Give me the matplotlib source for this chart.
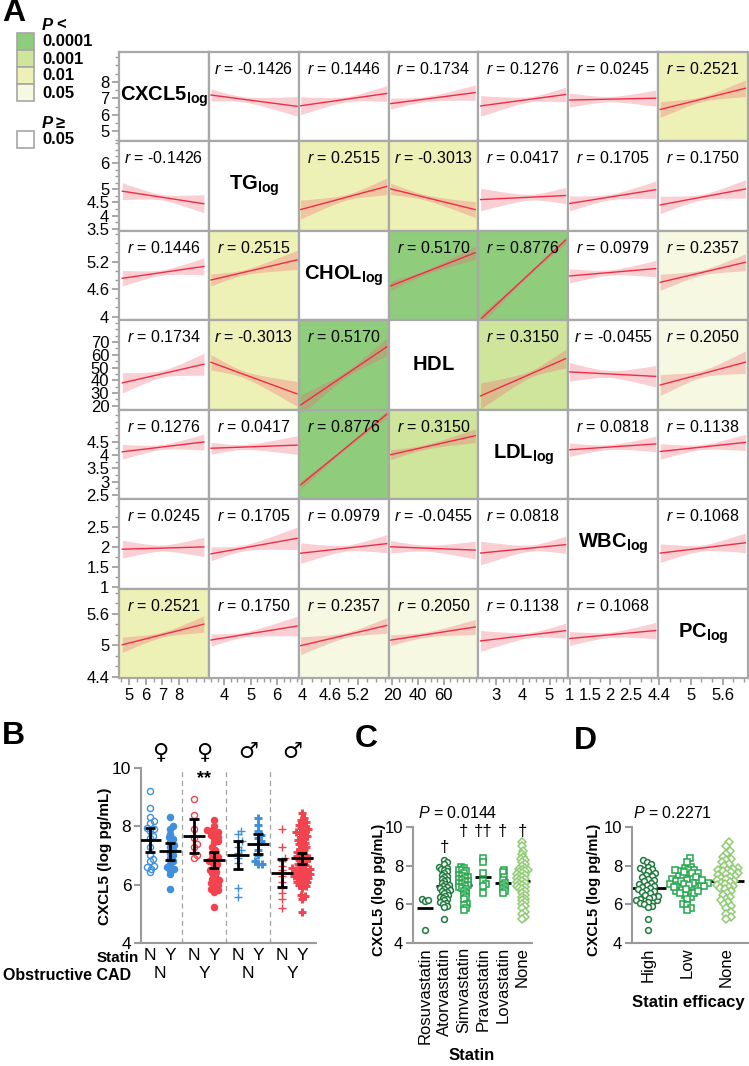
import math

import matplotlib
matplotlib.use("Agg")
import matplotlib.pyplot as plt
import numpy as np
from matplotlib.patches import Rectangle
from matplotlib.ticker import FixedLocator, MultipleLocator
from matplotlib.transforms import blended_transform_factory

plt.rcParams["font.family"] = ["Liberation Sans", "DejaVu Sans"]
plt.rcParams["mathtext.fontset"] = "custom"
plt.rcParams["mathtext.rm"] = "Liberation Sans"
plt.rcParams["mathtext.it"] = "Liberation Sans:italic"
plt.rcParams["mathtext.bf"] = "Liberation Sans:bold"

W, H = 749, 1066

# ---------------- panel A: scatterplot matrix summary ----------------
var_names = ["CXCL5", "TG", "CHOL", "HDL", "LDL", "WBC", "PC"]
var_logged = [True, True, True, False, True, True, True]
var_mean = [6.95, 4.70, 4.96, 45.0, 4.30, 1.97, 5.20]
var_sd = [0.85, 0.58, 0.31, 14.6, 0.50, 0.40, 0.27]
var_min = [4.6, 3.5, 3.96, 18.6, 2.43, 1.0, 4.42]
var_max = [9.5, 6.76, 5.83, 84.5, 5.6, 3.12, 6.03]
axis_lim = [(4.4, 9.8), (3.42, 6.82), (3.92, 5.87), (17, 87),
            (2.35, 5.7), (0.97, 3.18), (4.38, 6.08)]
x_ticks = [[5, 6, 7, 8], [4, 5, 6], [4, 4.6, 5.2], [20, 40, 60],
           [3, 4, 5], [1, 1.5, 2, 2.5], [4.4, 5, 5.6]]
y_ticks = [[5, 6, 7, 8], [3.5, 4, 4.5, 5, 6], [4, 4.6, 5.2],
           [20, 30, 40, 50, 60, 70], [2.5, 3, 3.5, 4, 4.5],
           [1, 1.5, 2, 2.5], [4.4, 5, 5.6]]
minor_step = [0.5, 0.25, 0.2, 5, 0.25, 0.25, 0.2]
n_subjects = 110

# upper triangle of the Pearson r matrix
r_upper = [
    [-0.1426, 0.1446, 0.1734, 0.1276, 0.0245, 0.2521],
    [0.2515, -0.3013, 0.0417, 0.1705, 0.1750],
    [0.5170, 0.8776, 0.0979, 0.2357],
    [0.3150, -0.0455, 0.2050],
    [0.0818, 0.1138],
    [0.1068],
]
sig_levels = [0.0001, 0.001, 0.01, 0.05]
sig_colors = ["#8fcd7c", "#cfe59c", "#eef1b6", "#f6f8e2"]

# ---------------- panel B ----------------
b_values = [
    [9.22, 8.63, 8.32, 8.17, 8.12, 7.94, 7.9, 7.85, 7.66, 7.6, 7.3, 7.0,
     6.88, 6.8, 6.65, 6.6, 6.55, 6.42],
    [8.32, 8.0, 7.9, 7.75, 7.62, 7.55, 7.45, 7.35, 7.3, 7.2, 7.1, 7.0, 6.9,
     6.8, 6.7, 6.6, 6.55, 6.5, 6.35, 5.85],
    [8.95, 8.4, 7.9, 7.6, 7.4, 7.3, 7.0, 6.92],
    [8.23, 8.0, 7.88, 7.85, 7.82, 7.78, 7.7, 7.65, 7.6, 7.5, 7.45, 7.3, 7.2,
     7.1, 7.0, 6.95, 6.9, 6.85, 6.8, 6.75, 6.7, 6.6, 6.5, 6.45, 6.4, 6.3,
     6.2, 6.15, 6.1, 6.05, 6.0, 5.95, 5.85, 5.8, 5.75, 5.23],
    [7.85, 7.75, 7.5, 7.45, 7.3, 7.2, 7.1, 6.9, 6.75, 5.9, 5.57],
    [8.3, 8.05, 7.85, 7.7, 7.6, 7.5, 7.4, 7.2, 7.0, 6.8, 6.7, 6.7],
    [7.9, 7.3, 6.9, 6.8, 6.65, 6.5, 6.3, 6.1, 5.9, 5.7, 5.5, 5.2],
    [8.45, 8.3, 8.22, 8.15, 8.1, 8.05, 8.0, 7.95, 7.9, 7.85, 7.8, 7.78,
     7.72, 7.68, 7.62, 7.58, 7.52, 7.48, 7.42, 7.38, 7.32, 7.28, 7.22, 7.18,
     7.12, 7.08, 7.02, 6.98, 6.95, 6.9, 6.86, 6.82, 6.78, 6.72, 6.68, 6.62,
     6.58, 6.55, 6.52, 6.5, 6.48, 6.45, 6.42, 6.4, 6.38, 6.35, 6.32, 6.3,
     6.28, 6.25, 6.22, 6.2, 6.15, 6.1, 6.1, 6.05, 6.0, 5.95, 5.9, 5.65, 5.6,
     5.5, 5.05],
]
b_statin = ["N", "Y", "N", "Y", "N", "Y", "N", "Y"]
b_cad = ["N", "Y", "N", "Y"]
b_sex = ["\u2640", "\u2640", "\u2642", "\u2642"]
b_pair_colors = ["#3f8fdc", "#f2434f", "#3f8fdc", "#f2434f"]

# ---------------- panels C and D ----------------
c_names = ["Rosuvastatin", "Atorvastatin", "Simvastatin", "Pravastatin",
           "Lovastatin", "None"]
c_values = [
    [6.25, 6.15, 6.2, 4.65],
    [8.3, 8.2, 8.1, 7.95, 7.9, 7.85, 7.8, 7.7, 7.6, 7.5, 7.45, 7.4, 7.3,
     7.25, 7.2, 7.1, 7.05, 7.0, 6.95, 6.9, 6.85, 6.8, 6.75, 6.7, 6.65, 6.6,
     6.5, 6.45, 6.4, 6.35, 6.3, 6.2, 6.1, 6.05, 6.0, 5.9, 5.85, 5.25],
    [7.95, 7.9, 7.8, 7.75, 7.7, 7.6, 7.5, 7.45, 7.4, 7.35, 7.3, 7.25, 7.2,
     7.15, 7.1, 7.05, 7.0, 6.95, 6.9, 6.85, 6.8, 6.7, 6.6, 6.5, 6.4, 6.3,
     6.0, 5.95, 5.8, 5.7],
    [8.4, 8.2, 7.6, 7.2, 7.05, 6.95, 6.6],
    [7.8, 7.65, 7.4, 7.25, 7.1, 7.0, 6.9, 6.8, 6.7, 6.6],
    [9.2, 9.0, 8.75, 8.6, 8.45, 8.35, 8.3, 8.2, 8.1, 8.0, 7.9, 7.85, 7.8,
     7.75, 7.7, 7.65, 7.6, 7.55, 7.5, 7.45, 7.4, 7.35, 7.3, 7.25, 7.2, 7.15,
     7.1, 7.05, 7.0, 6.95, 6.9, 6.85, 6.8, 6.7, 6.6, 6.5, 6.4, 6.3, 6.2,
     6.1, 6.0, 5.9, 5.8, 5.6, 5.5, 5.35, 5.25],
]
c_efficacy = ["High", "High", "Low", "Low", "Low", "None"]
c_dagger = ["", "\u2020", "\u2020", "\u2020\u2020", "\u2020", "\u2020"]
c_p = 0.0144
d_names = ["High", "Low", "None"]
d_p = 0.2271

dark_green, mid_green, light_green = "#1f7a3d", "#22a84c", "#8fcc72"
c_markers = ["o", "o", "s", "s", "s", "D"]
c_colors = [dark_green, dark_green, mid_green, mid_green, mid_green, light_green]


def box(l, t, r, b):
    return [l / W, 1 - b / H, (r - l) / W, (b - t) / H]


def p_value(r, n):
    t = abs(r) * math.sqrt(n - 2) / math.sqrt(1 - r * r)
    return math.erfc(t / math.sqrt(2))


def cell_color(p):
    for lvl, col in zip(sig_levels, sig_colors):
        if p < lvl:
            return col
    return "white"


def t_crit(df):
    z = 1.959964
    return z + (z ** 3 + z) / (4 * df) + (5 * z ** 5 + 16 * z ** 3 + 3 * z) / (96 * df ** 2)


def swarm(vals, ppu_y, ppu_x, d):
    vals = np.asarray(vals, float)
    out = np.zeros(len(vals))
    placed = []
    for k in np.argsort(vals):
        y = vals[k] * ppu_y
        near = [(px, py) for px, py in placed if abs(py - y) < d]
        cands = [0.0]
        for px, py in near:
            dx = math.sqrt(d * d - (py - y) ** 2)
            cands += [px + dx, px - dx]
        cands.sort(key=abs)
        for c in cands:
            if all((c - px) ** 2 + (y - py) ** 2 >= d * d - 1e-6 for px, py in near):
                break
        out[k] = c
        placed.append((c, y))
    return out / ppu_x


r_mat = np.eye(7)
for i, row in enumerate(r_upper):
    for k, r in enumerate(row):
        j = i + 1 + k
        r_mat[i, j] = r_mat[j, i] = r

fig = plt.figure(figsize=(W / 100, H / 100), dpi=100)
ov = fig.add_axes([0, 0, 1, 1])
ov.set_xlim(0, W)
ov.set_ylim(H, 0)
ov.axis("off")

grid_grey = "#a8a8a8"
tick_grey = "#9a9a9a"

# panel letters
for letter, x, y in [("A", 2, 13), ("B", 2, 736), ("C", 355, 739), ("D", 574, 741)]:
    ov.text(x, y, letter, fontsize=23, fontweight="bold", ha="left", va="center")

# legend for panel A
ov.text(42, 25, "P", fontsize=12, fontweight="bold", fontstyle="italic", va="center")
ov.text(56, 25, "<", fontsize=12, fontweight="bold", va="center")
for k, (lvl, col) in enumerate(zip(sig_levels, sig_colors)):
    top = 33 + k * 17
    ov.add_patch(Rectangle((17, top), 17, 17, fc=col, ec="#a6a6a6", lw=1.2))
    ov.text(42, top + 9, str(lvl), fontsize=12, fontweight="bold", va="center")
ov.text(42, 123, "P", fontsize=12, fontweight="bold", fontstyle="italic", va="center")
ov.text(56, 123, "\u2265", fontsize=12, fontweight="bold", va="center")
ov.add_patch(Rectangle((17, 131), 17, 17, fc="white", ec="#a6a6a6", lw=1.2))
ov.text(42, 140, str(sig_levels[-1]), fontsize=12, fontweight="bold", va="center")

# matrix
cx0, cx1, cy0, cy1 = 119, 748, 52, 678
cw, ch = (cx1 - cx0) / 7, (cy1 - cy0) / 7
for i in range(7):
    for j in range(7):
        ax = fig.add_axes(box(cx0 + j * cw, cy0 + i * ch, cx0 + (j + 1) * cw, cy0 + (i + 1) * ch))
        ax.set_xlim(axis_lim[j])
        ax.set_ylim(axis_lim[i])
        for s in ax.spines.values():
            s.set_color(grid_grey)
            s.set_linewidth(1.6)
        if i == j:
            if var_logged[i]:
                lab = r"$\mathbf{%s}_{\mathbf{log}}$" % var_names[i]
            else:
                lab = r"$\mathbf{%s}$" % var_names[i]
            ax.text(0.5, 0.5, lab, transform=ax.transAxes, ha="center", va="center", fontsize=14.5)
        else:
            r = r_mat[i, j]
            ax.set_facecolor(cell_color(p_value(r, n_subjects)))
            xs = np.linspace(var_min[j], var_max[j], 80)
            ys = var_mean[i] + r * var_sd[i] / var_sd[j] * (xs - var_mean[j])
            se = var_sd[i] * math.sqrt(1 - r * r) * np.sqrt(
                1 / n_subjects + (xs - var_mean[j]) ** 2 / ((n_subjects - 1) * var_sd[j] ** 2))
            half = t_crit(n_subjects - 2) * se
            ax.fill_between(xs, ys - half, ys + half, color="#f06070", alpha=0.3, lw=0)
            ax.plot(xs, ys, color="#ee2d45", lw=1.0)
            ax.text(0.5, 0.81, r"$\mathit{r}$ = %.4f" % r, transform=ax.transAxes,
                    ha="center", va="center", fontsize=11.5)
        ax.tick_params(which="both", direction="out", color=tick_grey, labelsize=12, pad=2)
        ax.tick_params(which="major", length=5, width=1.2)
        ax.tick_params(which="minor", length=3, width=1.0)
        if j == 0:
            ax.yaxis.set_major_locator(FixedLocator(y_ticks[i]))
            ax.yaxis.set_minor_locator(MultipleLocator(minor_step[i]))
            ax.set_yticklabels([("%g" % v) for v in y_ticks[i]])
        else:
            ax.set_yticks([])
        if i == 6:
            ax.xaxis.set_major_locator(FixedLocator(x_ticks[j]))
            ax.xaxis.set_minor_locator(MultipleLocator(minor_step[j]))
            ax.set_xticklabels([("%g" % v) for v in x_ticks[j]])
        else:
            ax.set_xticks([])


def style_dot_axes(ax, fs):
    ax.patch.set_visible(False)
    for side in ["top", "right"]:
        ax.spines[side].set_visible(False)
    for side in ["left", "bottom"]:
        ax.spines[side].set_color(tick_grey)
        ax.spines[side].set_linewidth(1.5)
    ax.set_ylim(4, 10)
    ax.set_yticks([4, 6, 8, 10])
    ax.tick_params(axis="y", direction="out", length=5, width=1.5, color=tick_grey,
                   labelsize=fs, pad=2)
    ax.tick_params(axis="x", length=0, labelsize=12, pad=3)


# ---------------- panel B ----------------
bl, bt, br, bb = 141, 768, 316, 943
axB = fig.add_axes(box(bl, bt, br, bb))
style_dot_axes(axB, 12.5)
b_pos = [2.2 * k + s for k in range(4) for s in (0, 1)]
axB.set_xlim(-0.45, 8.3)
axB.set_xticks([])
ppu_x = (br - bl) / 8.75
ppu_y = (bb - bt) / 6.0
tB = blended_transform_factory(axB.transData, axB.transAxes)
for g, vals in enumerate(b_values):
    pair = g // 2
    col = b_pair_colors[pair]
    x = b_pos[g] + swarm(vals, ppu_y, ppu_x, 3.9)
    if pair < 2:
        axB.plot(x, vals, ls="none", marker="o", ms=4.4, mec=col, mew=1.0,
                 mfc=col if b_statin[g] == "Y" else "none", zorder=2)
    else:
        axB.plot(x, vals, ls="none", marker="+", ms=6.2, mec=col,
                 mew=2.1 if b_statin[g] == "Y" else 1.0, zorder=2)
    arr = np.asarray(vals)
    m = arr.mean()
    ci = t_crit(len(arr) - 1) * arr.std(ddof=1) / math.sqrt(len(arr))
    axB.errorbar(b_pos[g], m, yerr=ci, fmt="none", ecolor="black", elinewidth=2,
                 capsize=3.8, capthick=2, zorder=4)
    axB.hlines(m, b_pos[g] - 0.55, b_pos[g] + 0.55, color="black", lw=2, zorder=4)
    axB.text(b_pos[g], -0.072, b_statin[g], transform=tB, ha="center", va="center", fontsize=12.5)
for k in range(3):
    axB.axvline((b_pos[2 * k + 1] + b_pos[2 * k + 2]) / 2, color="#a0a0a0",
                ls=(0, (4, 3)), lw=0.9, zorder=1)
for k in range(4):
    xc = (b_pos[2 * k] + b_pos[2 * k + 1]) / 2
    axB.text(xc, -0.174, b_cad[k], transform=tB, ha="center", va="center", fontsize=12.5)
    axB.text(xc, 1.091, b_sex[k], transform=tB, ha="center", va="center", fontsize=16,
             family="DejaVu Sans")
axB.text((b_pos[2] + b_pos[3]) / 2, 9.62, "**", ha="center", va="center",
         fontsize=13, fontweight="bold")
ov.text(139, 958, "Statin", ha="right", va="center", fontsize=11, fontweight="bold")
ov.text(131, 975, "Obstructive CAD", ha="right", va="center", fontsize=11.5, fontweight="bold")
ov.text(105, 856, "CXCL5 (log pg/mL)", rotation=90, ha="center", va="center",
        fontsize=11, fontweight="bold")

# ---------------- panel C ----------------
cl, ct, cr, cb = 413, 827, 532, 943
axC = fig.add_axes(box(cl, ct, cr, cb))
style_dot_axes(axC, 12)
axC.set_xlim(-0.6, 5.5)
axC.set_xticks(range(len(c_names)))
axC.set_xticklabels(c_names, rotation=90)
ppu_x = (cr - cl) / 6.1
ppu_y = (cb - ct) / 6.0
for g, vals in enumerate(c_values):
    x = g + swarm(vals, ppu_y, ppu_x, 3.2)
    axC.plot(x, vals, ls="none", marker=c_markers[g], ms=4.2 if c_markers[g] != "D" else 3.6,
             mfc="white", mec=c_colors[g], mew=1.1, zorder=3)
    axC.hlines(np.mean(vals), g - 0.42, g + 0.42, color="black", lw=2, zorder=2)
    if c_dagger[g]:
        axC.text(g, 8.95 if g == 1 else 9.75, c_dagger[g], ha="center", va="center", fontsize=12)
ov.text(458, 813, r"$P$ = %.4f" % c_p, ha="center", va="center", fontsize=11.5)
ov.text(379, 890, "CXCL5 (log pg/mL)", rotation=90, ha="center", va="center",
        fontsize=10.5, fontweight="bold")
ov.text(472, 1056, "Statin", ha="center", va="center", fontsize=12, fontweight="bold")

# ---------------- panel D ----------------
dl, dt, dr, db = 632, 827, 748, 943
axD = fig.add_axes(box(dl, dt, dr, db))
style_dot_axes(axD, 12)
axD.set_xlim(-0.4, 2.55)
axD.set_xticks(range(len(d_names)))
axD.set_xticklabels(d_names, rotation=90)
ppu_x = (dr - dl) / 2.95
for g, name in enumerate(d_names):
    members = [k for k, e in enumerate(c_efficacy) if e == name]
    vals = [v for k in members for v in c_values[k]]
    mk, col = c_markers[members[0]], c_colors[members[0]]
    x = g + swarm(vals, ppu_y, ppu_x, 4.6)
    axD.plot(x, vals, ls="none", marker=mk, ms=4.2 if mk != "D" else 3.6,
             mfc="white", mec=col, mew=1.1, zorder=3)
    axD.hlines(np.mean(vals), g - 0.46, g + 0.46, color="black", lw=2, zorder=2)
ov.text(673, 813, r"$P$ = %.4f" % d_p, ha="center", va="center", fontsize=11.5)
ov.text(594, 890, "CXCL5 (log pg/mL)", rotation=90, ha="center", va="center",
        fontsize=10.5, fontweight="bold")
ov.text(688, 1003, "Statin efficacy", ha="center", va="center", fontsize=12, fontweight="bold")

fig.savefig("out.png", dpi=100)
